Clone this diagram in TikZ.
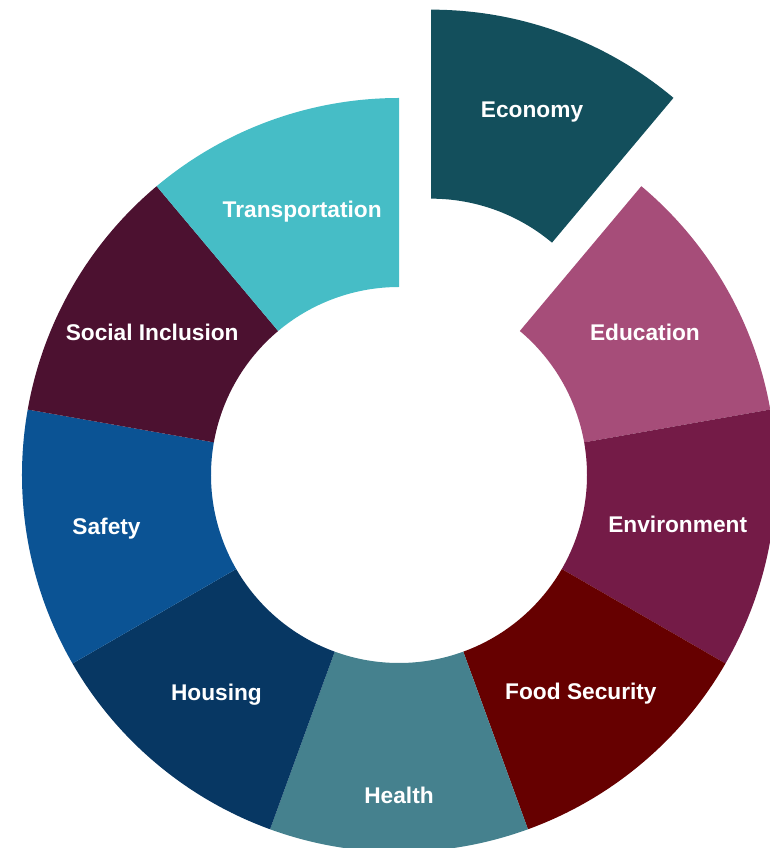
\documentclass[tikz,border=0pt]{standalone}
\usepackage{fontspec}
\setmainfont{Liberation Sans}

\definecolor{economy}{HTML}{134F5C}
\definecolor{education}{HTML}{A64D79}
\definecolor{environment}{HTML}{741B47}
\definecolor{food}{HTML}{660000}
\definecolor{health}{HTML}{45818E}
\definecolor{housing}{HTML}{073763}
\definecolor{safety}{HTML}{0B5394}
\definecolor{social}{HTML}{4C1130}
\definecolor{transport}{HTML}{46BDC6}

\begin{document}
\begin{tikzpicture}[
  x=1pt, y=1pt,
  segment/.style = {fill=#1},
  seglabel/.style = {text=white, font=\fontsize{22.7}{26}\selectfont\bfseries,
                     inner sep=0pt, text height=16pt, text depth=0pt}
]

  \useasboundingbox (-399,-373) rectangle (371,475);
  \def\rin{188}
  \def\rout{377}

  % ring segments: start angle / colour / label radius / text / explode offset
  \foreach \a/\col/\lr/\txt/\off in {
      50/economy/295/Economy/94,
      10/education/284/Education/0,
      -30/environment/283/Environment/0,
      -70/food/283/Food Security/0,
      -110/health/320/Health/0,
      210/housing/284/Housing/0,
      170/safety/297/Safety/0,
      130/social/285/Social Inclusion/0,
      90/transport/283/Transportation/0}
  {
    \begin{scope}[shift={(\a+20:\off)}]
      \fill[segment=\col] (\a:\rout) arc[start angle=\a, end angle=\a+40, radius=\rout]
        -- (\a+40:\rin) arc[start angle=\a+40, end angle=\a, radius=\rin] -- cycle;
      \node[seglabel] (lbl-\col) at (\a+20:\lr) {\txt};
    \end{scope}
  }

\end{tikzpicture}
\end{document}
